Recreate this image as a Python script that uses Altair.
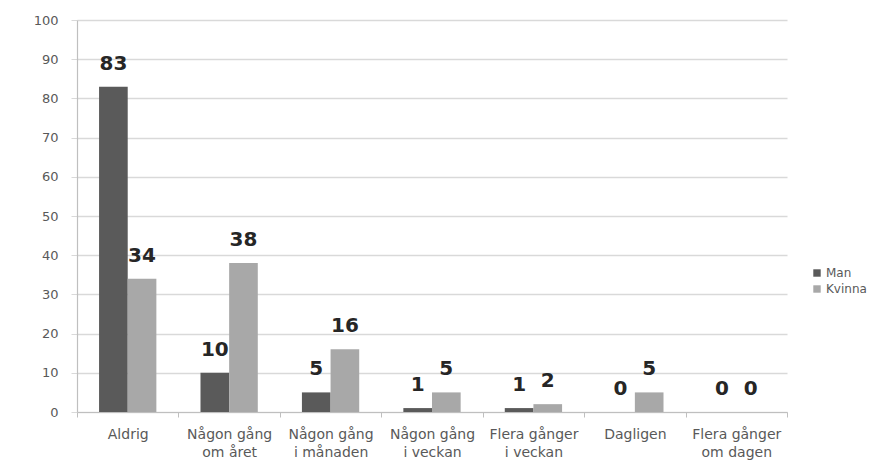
import altair as alt
import pandas as pd

categories = ["Aldrig", "Någon gång|om året", "Någon gång|i månaden", "Någon gång|i veckan",
              "Flera gånger|i veckan", "Dagligen", "Flera gånger|om dagen"]
man = [83, 10, 5, 1, 1, 0, 0]
kvinna = [34, 38, 16, 5, 2, 5, 0]
series = ["Man", "Kvinna"]

rows = []
for c, m, k in zip(categories, man, kvinna):
    rows.append({"cat": c, "serie": "Man", "val": m})
    rows.append({"cat": c, "serie": "Kvinna", "val": k})
df = pd.DataFrame(rows)

FONT = "DejaVu Sans"

x = alt.X("cat:N", sort=categories, title=None,
          scale=alt.Scale(paddingInner=0, paddingOuter=0),
          axis=alt.Axis(labelAngle=0, labelExpr="split(datum.label, '|')",
                        tickBand="extent", tickSize=5, tickColor="#bfbfbf",
                        domainColor="#bfbfbf", domainWidth=1.2, labelColor="#595959",
                        labelFontSize=14, labelFont=FONT, labelPadding=10,
                        labelLineHeight=18, labelBaseline="top"))
xoff = alt.XOffset("serie:N", sort=series,
                   scale=alt.Scale(paddingInner=0, paddingOuter=0.77))
y = alt.Y("val:Q", title=None,
          scale=alt.Scale(domain=[0, 100]),
          axis=alt.Axis(values=list(range(0, 101, 10)), grid=True,
                        gridColor="#d9d9d9", gridWidth=1.4,
                        tickSize=6, tickColor="#d9d9d9",
                        domainColor="#bfbfbf", domainWidth=1.2, labelColor="#595959",
                        labelFontSize=13, labelFont=FONT, labelPadding=13))
color = alt.Color("serie:N", sort=series,
                  scale=alt.Scale(domain=series, range=["#5a5a5a", "#a8a8a8"]),
                  legend=alt.Legend(title=None, orient="none", legendX=734, legendY=247,
                                    symbolType="square", symbolSize=55,
                                    symbolStrokeWidth=0,
                                    labelFont=FONT, labelFontSize=12, labelOffset=3,
                                    labelColor="#595959", rowPadding=4))

bars = alt.Chart(df).mark_bar().encode(x=x, xOffset=xoff, y=y, color=color)
labels = alt.Chart(df).mark_text(baseline="alphabetic", dy=-17, fontSize=20,
                                 fontWeight="bold", font=FONT, color="#262626").encode(
    x=x, xOffset=xoff, y=y, text=alt.Text("val:Q"))

chart = (bars + labels).properties(
    width=710, height=392,
    autosize=alt.AutoSizeParams(type="none"),
    padding={"left": 69, "top": 12, "right": 89, "bottom": 48},
    background="white",
).configure_view(stroke=None)

chart.save("out.html", embed_options={"renderer": "svg", "actions": False})
